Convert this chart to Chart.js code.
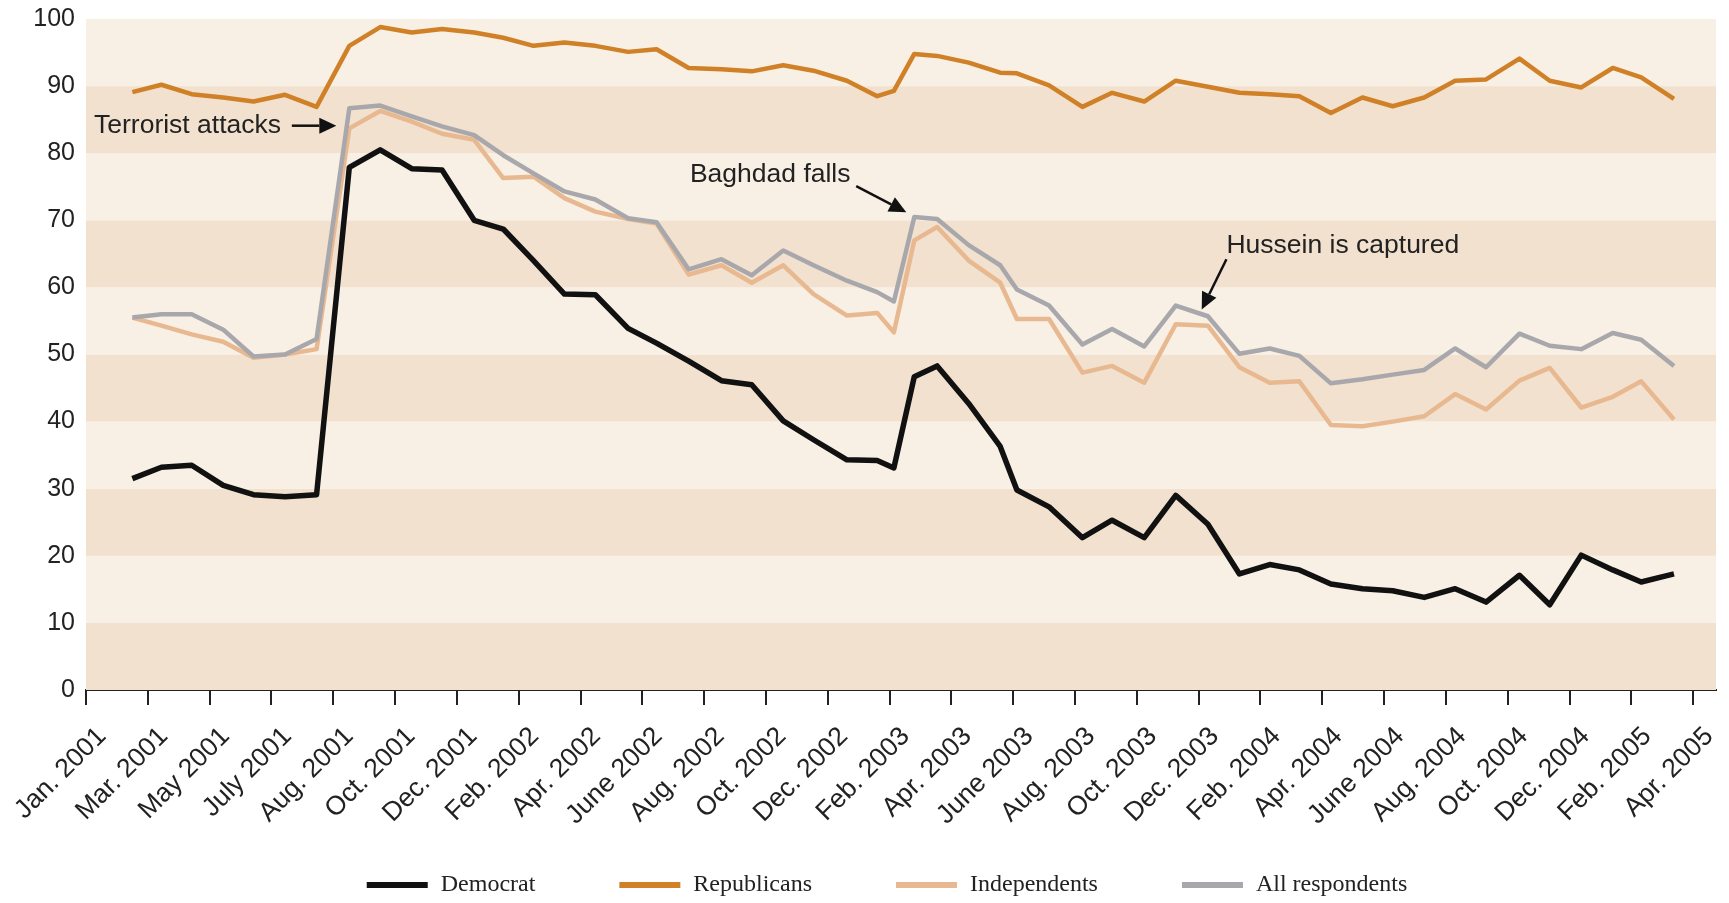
<!DOCTYPE html>
<html>
<head>
<meta charset="utf-8">
<script src="https://cdn.jsdelivr.net/npm/chart.js@4.4.1/dist/chart.umd.min.js"></script>
<style>
  html, body { margin: 0; padding: 0; background: #fff; }
</style>
</head>
<body>
<canvas id="approvalChart" width="1729" height="903"></canvas>
<script>
// x axis labels, one per tick (tick index 0..26)
var tickLabels = ['Jan. 2001', 'Mar. 2001', 'May 2001', 'July 2001', 'Aug. 2001', 'Oct. 2001', 'Dec. 2001',
    'Feb. 2002', 'Apr. 2002', 'June 2002', 'Aug. 2002', 'Oct. 2002', 'Dec. 2002',
    'Feb. 2003', 'Apr. 2003', 'June 2003', 'Aug. 2003', 'Oct. 2003', 'Dec. 2003',
    'Feb. 2004', 'Apr. 2004', 'June 2004', 'Aug. 2004', 'Oct. 2004', 'Dec. 2004',
    'Feb. 2005', 'Apr. 2005'];

// where each poll falls along the axis, in tick units
var pollPositions = [0.75, 1.22, 1.71, 2.22, 2.71, 3.22, 3.73, 4.26, 4.76, 5.27, 5.76, 6.28, 6.75,
    7.24, 7.74, 8.24, 8.77, 9.23, 9.75, 10.28, 10.77, 11.28, 11.77, 12.31, 12.8, 13.07, 13.4,
    13.77, 14.28, 14.79, 15.06, 15.58, 16.12, 16.6, 17.12, 17.63, 18.15, 18.66, 19.15, 19.63,
    20.14, 20.65, 21.14, 21.65, 22.15, 22.65, 23.19, 23.68, 24.19, 24.7, 25.16, 25.69];

var democrat = [31.5, 33.2, 33.5, 30.5, 29.1, 28.8, 29.1, 77.9, 80.5, 77.7, 77.5, 70, 68.7,
    64, 59, 58.9, 53.9, 51.7, 49, 46.1, 45.5, 40.1, 37.3, 34.3, 34.2, 33.1, 46.7,
    48.3, 42.7, 36.3, 29.8, 27.3, 22.7, 25.3, 22.7, 29, 24.7, 17.3, 18.7, 17.9,
    15.8, 15.1, 14.8, 13.8, 15.1, 13.1, 17.1, 12.7, 20.1, 17.9, 16.1, 17.3];

var republicans = [89.1, 90.2, 88.8, 88.3, 87.7, 88.7, 86.9, 96, 98.8, 98, 98.5, 98, 97.2,
    96, 96.5, 96, 95.1, 95.5, 92.7, 92.5, 92.2, 93.1, 92.3, 90.8, 88.5, 89.3, 94.8,
    94.5, 93.5, 92, 91.9, 90.1, 86.9, 89, 87.7, 90.8, 89.9, 89, 88.8, 88.5,
    86, 88.3, 87, 88.3, 90.8, 91, 94.1, 90.8, 89.8, 92.7, 91.3, 88.1];

var independents = [55.5, 54.3, 53, 51.9, 49.5, 50, 50.8, 83.7, 86.3, 84.7, 82.9, 82, 76.3,
    76.5, 73.3, 71.3, 70.2, 69.5, 61.9, 63.3, 60.7, 63.3, 59, 55.8, 56.2, 53.3, 67,
    69, 64, 60.7, 55.3, 55.3, 47.3, 48.3, 45.8, 54.5, 54.3, 48.1, 45.8, 46,
    39.5, 39.3, 40, 40.8, 44.1, 41.8, 46.1, 48, 42.1, 43.7, 46, 40.3];

var allRespondents = [55.5, 56, 56, 53.7, 49.7, 50, 52.3, 86.7, 87.1, 85.5, 84, 82.7, 79.7,
    77, 74.3, 73.1, 70.3, 69.7, 62.7, 64.2, 61.8, 65.5, 63.3, 61, 59.3, 57.9, 70.5,
    70.2, 66.3, 63.3, 59.7, 57.3, 51.5, 53.8, 51.2, 57.3, 55.7, 50.1, 50.9, 49.8,
    45.7, 46.3, 47, 47.7, 50.9, 48.1, 53.1, 51.3, 50.8, 53.2, 52.2, 48.3];

var yTicks = [0, 10, 20, 30, 40, 50, 60, 70, 80, 90, 100];

// event notes: text anchor and arrow from/to, in axis units
var notes = [
    { text: 'Terrorist attacks', x: 0.13, y: 84.1, from: [3.33, 84.1], to: [4.05, 84.1] },
    { text: 'Baghdad falls', x: 9.77, y: 76.8, from: [12.46, 75.1], to: [13.27, 71.2] },
    { text: 'Hussein is captured', x: 18.45, y: 66.2, from: [18.45, 64.2], to: [18.05, 56.7] }
];

function series(values) {
    return values.map(function (v, i) { return { x: pollPositions[i], y: v }; });
}

var bandPlugin = {
    id: 'bands',
    beforeDatasetsDraw: function (chart) {
        var ctx = chart.ctx, area = chart.chartArea, y = chart.scales.y;
        ctx.save();
        for (var i = 0; i < yTicks.length - 1; i++) {
            var top = y.getPixelForValue(yTicks[i + 1]);
            var bottom = y.getPixelForValue(yTicks[i]);
            ctx.fillStyle = i % 2 === 0 ? '#f2e1ce' : '#f8efe5';
            ctx.fillRect(area.left, top, area.right - area.left, bottom - top);
        }
        ctx.restore();
    }
};

function drawArrow(ctx, x1, y1, x2, y2) {
    var ang = Math.atan2(y2 - y1, x2 - x1);
    var head = 17, half = 8;
    var bx = x2 - Math.cos(ang) * head, by = y2 - Math.sin(ang) * head;
    ctx.beginPath();
    ctx.moveTo(x1, y1);
    ctx.lineTo(bx, by);
    ctx.stroke();
    ctx.beginPath();
    ctx.moveTo(x2, y2);
    ctx.lineTo(bx + Math.sin(ang) * half, by - Math.cos(ang) * half);
    ctx.lineTo(bx - Math.sin(ang) * half, by + Math.cos(ang) * half);
    ctx.closePath();
    ctx.fill();
}

var notesPlugin = {
    id: 'notes',
    afterDatasetsDraw: function (chart) {
        var ctx = chart.ctx, xs = chart.scales.x, ys = chart.scales.y;
        ctx.save();
        ctx.font = '26.5px "Liberation Sans", Arial, sans-serif';
        ctx.strokeStyle = '#111';
        ctx.lineWidth = 2.5;
        ctx.textBaseline = 'middle';
        notes.forEach(function (n) {
            ctx.fillStyle = '#222';
            ctx.fillText(n.text, xs.getPixelForValue(n.x), ys.getPixelForValue(n.y));
            ctx.fillStyle = '#111';
            drawArrow(ctx, xs.getPixelForValue(n.from[0]), ys.getPixelForValue(n.from[1]),
                xs.getPixelForValue(n.to[0]), ys.getPixelForValue(n.to[1]));
        });
        ctx.restore();
    }
};

var legendPlugin = {
    id: 'lineLegend',
    afterDraw: function (chart) {
        var ctx = chart.ctx, area = chart.chartArea;
        var sets = chart.data.datasets;
        var boxW = 61, gapText = 13, gapItem = 84;
        ctx.save();
        ctx.font = '24px "Liberation Serif", "Times New Roman", serif';
        var total = 0;
        sets.forEach(function (ds, i) {
            total += boxW + gapText + ctx.measureText(ds.label).width + (i < sets.length - 1 ? gapItem : 0);
        });
        var x = (area.left + area.right) / 2 - 14 - total / 2;
        var y = area.bottom + 195;
        ctx.textBaseline = 'middle';
        sets.forEach(function (ds) {
            ctx.fillStyle = ds.borderColor;
            ctx.fillRect(x, y - 3, boxW, 6);
            x += boxW + gapText;
            ctx.fillStyle = '#222';
            ctx.fillText(ds.label, x, y);
            x += ctx.measureText(ds.label).width + gapItem;
        });
        ctx.restore();
    }
};

var ctx = document.getElementById('approvalChart').getContext('2d');
var approvalChart = new Chart(ctx, {
    type: 'line',
    data: {
        datasets: [{
            label: 'Democrat',
            data: series(democrat),
            borderColor: '#111111',
            borderWidth: 5.5,
            order: 0
        }, {
            label: 'Republicans',
            data: series(republicans),
            borderColor: '#d08026',
            borderWidth: 4.5,
            order: 1
        }, {
            label: 'Independents',
            data: series(independents),
            borderColor: '#e8b990',
            borderWidth: 4.5,
            order: 3
        }, {
            label: 'All respondents',
            data: series(allRespondents),
            borderColor: '#a8a8ac',
            borderWidth: 4.5,
            order: 2
        }]
    },
    options: {
        responsive: false,
        animation: false,
        devicePixelRatio: 1,
        layout: { padding: { left: 0, right: 13, top: 19, bottom: 0 } },
        elements: {
            point: { radius: 0 },
            line: { tension: 0, borderJoinStyle: 'round', borderCapStyle: 'butt' }
        },
        plugins: {
            legend: { display: false },
            tooltip: { enabled: false }
        },
        scales: {
            x: {
                type: 'linear',
                min: 0,
                max: 26.37,
                afterFit: function (scale) {
                    scale.height = 213;
                    scale.paddingLeft = 0;
                    scale.paddingRight = 0;
                },
                ticks: {
                    stepSize: 1,
                    includeBounds: false,
                    autoSkip: false,
                    maxRotation: 45,
                    minRotation: 45,
                    padding: 16,
                    labelOffset: 16,
                    color: '#222',
                    font: { family: '"Liberation Sans", Arial, sans-serif', size: 26.5 },
                    callback: function (value) { return tickLabels[value]; }
                },
                grid: {
                    drawOnChartArea: false,
                    drawTicks: true,
                    tickLength: 15,
                    color: '#222',
                    lineWidth: 2
                },
                border: { color: '#222', width: 2 }
            },
            y: {
                min: 0,
                max: 100,
                afterFit: function (scale) {
                    scale.width = 86;
                    scale.paddingTop = 0;
                    scale.paddingBottom = 0;
                },
                afterBuildTicks: function (scale) {
                    scale.ticks = yTicks.map(function (v) { return { value: v }; });
                },
                ticks: {
                    padding: 3,
                    color: '#222',
                    font: { family: '"Liberation Sans", Arial, sans-serif', size: 25 }
                },
                grid: { display: false },
                border: { display: false }
            }
        }
    },
    plugins: [bandPlugin, notesPlugin, legendPlugin]
});
</script>
</body>
</html>
